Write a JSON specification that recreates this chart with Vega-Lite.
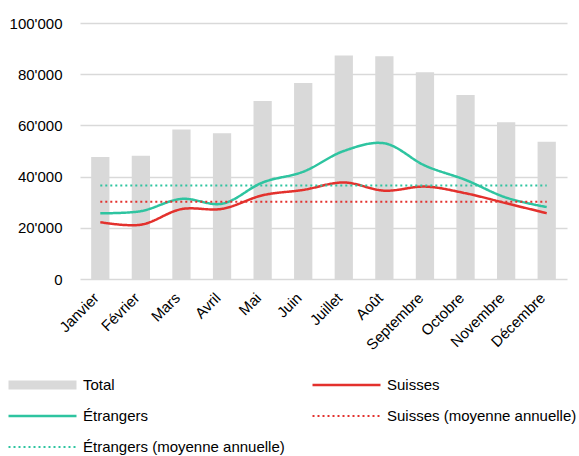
{
  "$schema": "https://vega.github.io/schema/vega-lite/v6.json",
  "autosize": "none",
  "width": 487,
  "height": 256,
  "padding": {"left": 80, "top": 23, "right": 12, "bottom": 177},
  "background": "white",
  "config": {
    "font": "Liberation Sans",
    "view": {"stroke": null},
    "axis": {"labelFont": "Liberation Sans", "labelFontSize": 15, "labelColor": "#000000"},
    "legend": {"labelFont": "Liberation Sans", "labelFontSize": 15, "labelColor": "#000000"}
  },
  "datasets": {
    "total": [
      {"mois": "Janvier", "valeur": 47700},
      {"mois": "Février", "valeur": 48100},
      {"mois": "Mars", "valeur": 58400},
      {"mois": "Avril", "valeur": 56900},
      {"mois": "Mai", "valeur": 69500},
      {"mois": "Juin", "valeur": 76600},
      {"mois": "Juillet", "valeur": 87300},
      {"mois": "Août", "valeur": 87000},
      {"mois": "Septembre", "valeur": 80800},
      {"mois": "Octobre", "valeur": 71900},
      {"mois": "Novembre", "valeur": 61200},
      {"mois": "Décembre", "valeur": 53600}
    ],
    "lignes": [
      {"mois": "Janvier", "serie": "Suisses", "valeur": 22200},
      {"mois": "Février", "serie": "Suisses", "valeur": 21200},
      {"mois": "Mars", "serie": "Suisses", "valeur": 27300},
      {"mois": "Avril", "serie": "Suisses", "valeur": 27400},
      {"mois": "Mai", "serie": "Suisses", "valeur": 32700},
      {"mois": "Juin", "serie": "Suisses", "valeur": 34800},
      {"mois": "Juillet", "serie": "Suisses", "valeur": 37700},
      {"mois": "Août", "serie": "Suisses", "valeur": 34500},
      {"mois": "Septembre", "serie": "Suisses", "valeur": 36100},
      {"mois": "Octobre", "serie": "Suisses", "valeur": 33500},
      {"mois": "Novembre", "serie": "Suisses", "valeur": 29600},
      {"mois": "Décembre", "serie": "Suisses", "valeur": 25700},
      {"mois": "Janvier", "serie": "Étrangers", "valeur": 25700},
      {"mois": "Février", "serie": "Étrangers", "valeur": 26500},
      {"mois": "Mars", "serie": "Étrangers", "valeur": 31300},
      {"mois": "Avril", "serie": "Étrangers", "valeur": 29400},
      {"mois": "Mai", "serie": "Étrangers", "valeur": 37700},
      {"mois": "Juin", "serie": "Étrangers", "valeur": 41900},
      {"mois": "Juillet", "serie": "Étrangers", "valeur": 50000},
      {"mois": "Août", "serie": "Étrangers", "valeur": 53000},
      {"mois": "Septembre", "serie": "Étrangers", "valeur": 44300},
      {"mois": "Octobre", "serie": "Étrangers", "valeur": 38700},
      {"mois": "Novembre", "serie": "Étrangers", "valeur": 31800},
      {"mois": "Décembre", "serie": "Étrangers", "valeur": 28100},
      {"mois": "Janvier", "serie": "Suisses (moyenne annuelle)", "valeur": 30200},
      {"mois": "Décembre", "serie": "Suisses (moyenne annuelle)", "valeur": 30200},
      {"mois": "Janvier", "serie": "Étrangers (moyenne annuelle)", "valeur": 36500},
      {"mois": "Décembre", "serie": "Étrangers (moyenne annuelle)", "valeur": 36500}
    ]
  },
  "layer": [
    {
      "data": {"name": "total"},
      "mark": {"type": "bar", "fill": "#d9d9d9"},
      "encoding": {
        "x": {
          "field": "mois",
          "type": "nominal",
          "sort": null,
          "scale": {
            "domain": ["Janvier", "Février", "Mars", "Avril", "Mai", "Juin", "Juillet", "Août", "Septembre", "Octobre", "Novembre", "Décembre"],
            "paddingInner": 0.55,
            "paddingOuter": 0.275
          },
          "axis": {
            "title": null,
            "labelAngle": -45,
            "labelAlign": "right",
            "labelBaseline": "middle",
            "labelPadding": 16,
            "labelOffset": -4,
            "ticks": false,
            "domain": false,
            "grid": false
          }
        },
        "y": {
          "field": "valeur",
          "type": "quantitative",
          "scale": {"domain": [0, 100000], "nice": false},
          "axis": {
            "title": null,
            "values": [0, 20000, 40000, 60000, 80000, 100000],
            "labelExpr": "replace(format(datum.value, ','), ',', \"'\")",
            "labelPadding": 18,
            "ticks": false,
            "domain": false,
            "grid": true,
            "gridColor": "#d9d9d9",
            "gridWidth": 1.5
          }
        }
      }
    },
    {
      "data": {"name": "lignes"},
      "mark": {"type": "line", "interpolate": "catmull-rom"},
      "encoding": {
        "x": {"field": "mois", "type": "nominal", "sort": null},
        "y": {"field": "valeur", "type": "quantitative"},
        "stroke": {
          "field": "serie",
          "type": "nominal",
          "scale": {
            "domain": ["Total", "Suisses", "Étrangers", "Suisses (moyenne annuelle)", "Étrangers (moyenne annuelle)"],
            "range": ["#d9d9d9", "#e3312d", "#2ec4a0", "#e3312d", "#2ec4a0"]
          },
          "legend": {
            "title": null,
            "orient": "none",
            "legendX": -76,
            "legendY": 353,
            "direction": "horizontal",
            "columns": 2,
            "symbolType": "M-1,0H7",
            "symbolSize": 289,
            "labelOffset": 53,
            "labelLimit": 400,
            "clipHeight": 18,
            "rowPadding": 13,
            "columnPadding": 23
          }
        },
        "strokeDash": {
          "field": "serie",
          "type": "nominal",
          "scale": {
            "domain": ["Total", "Suisses", "Étrangers", "Suisses (moyenne annuelle)", "Étrangers (moyenne annuelle)"],
            "range": [[1, 0], [1, 0], [1, 0], [2, 3], [2, 3]]
          },
          "legend": {
            "title": null,
            "orient": "none",
            "legendX": -76,
            "legendY": 353,
            "direction": "horizontal",
            "columns": 2,
            "symbolType": "M-1,0H7",
            "symbolSize": 289,
            "labelOffset": 53,
            "labelLimit": 400,
            "clipHeight": 18,
            "rowPadding": 13,
            "columnPadding": 23
          }
        },
        "strokeWidth": {
          "field": "serie",
          "type": "nominal",
          "scale": {
            "type": "ordinal",
            "domain": ["Total", "Suisses", "Étrangers", "Suisses (moyenne annuelle)", "Étrangers (moyenne annuelle)"],
            "range": [9, 2.5, 2.5, 2, 2]
          },
          "legend": {
            "title": null,
            "orient": "none",
            "legendX": -76,
            "legendY": 353,
            "direction": "horizontal",
            "columns": 2,
            "symbolType": "M-1,0H7",
            "symbolSize": 289,
            "labelOffset": 53,
            "labelLimit": 400,
            "clipHeight": 18,
            "rowPadding": 13,
            "columnPadding": 23
          }
        }
      }
    }
  ]
}
